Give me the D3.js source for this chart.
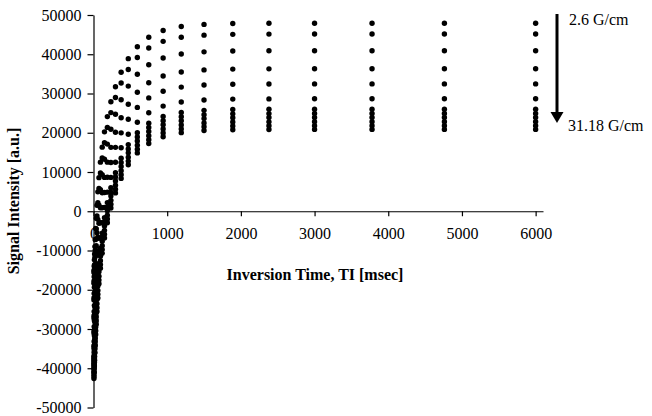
<!DOCTYPE html>
<html>
<head>
<meta charset="utf-8">
<script src="https://cdn.jsdelivr.net/npm/d3@7"></script>
<style>
  body { margin: 0; background: #fff; }
  svg { display: block; }
  text { font-family: "Liberation Serif", "Times New Roman", serif; }
</style>
</head>
<body>
<div id="chart"></div>
<script>
// inversion times [msec]
var tiValues = [6000, 4762, 3780, 3000, 2381, 1890, 1500, 1191, 945, 750, 595, 472, 375, 298, 236,
  188, 149, 118, 94, 74, 59, 47, 37, 30, 23, 19, 15, 12, 9, 7, 6];

// signal intensity [a.u.] per gradient strength
var sig2_6 = [47900, 47900, 47900, 47900, 47880, 47820, 47610, 47080, 46040, 44330, 41910, 38880, 35420, 31730, 27880,
  24110, 20230, 16330, 12510, 8560, 4940, 1530, -1770, -4360, -7230, -9000, -10890, -12380, -13940, -15030, -15580];
var sig5_2 = [45150, 45150, 45150, 45150, 45130, 45070, 44860, 44330, 43290, 41580, 39160, 36130, 32670, 28980, 25130,
  21360, 17480, 13580, 9760, 5810, 2190, -1220, -4520, -7110, -9980, -11750, -13640, -15130, -16690, -17780, -18330];
var sig7_8 = [40900, 40900, 40900, 40900, 40880, 40820, 40610, 40080, 39040, 37330, 34910, 31880, 28420, 24730, 20880,
  17110, 13230, 9330, 5510, 1560, -2060, -5470, -8770, -11360, -14230, -16000, -17890, -19380, -20940, -22030, -22580];
var sig10_4 = [36300, 36300, 36300, 36300, 36280, 36220, 36010, 35480, 34440, 32730, 30310, 27280, 23820, 20130, 16280,
  12510, 8630, 4730, 910, -3040, -6660, -10070, -13370, -15960, -18830, -20600, -22490, -23980, -25540, -26630, -27180];
var sig13_0 = [32450, 32450, 32450, 32450, 32430, 32370, 32160, 31630, 30590, 28880, 26460, 23430, 19970, 16280, 12430,
  8660, 4780, 880, -2940, -6890, -10510, -13920, -17220, -19810, -22680, -24450, -26340, -27830, -29390, -30480, -31030];
var sig15_6 = [28650, 28650, 28650, 28650, 28630, 28570, 28360, 27830, 26790, 25080, 22660, 19630, 16170, 12480, 8630,
  4860, 980, -2920, -6740, -10690, -14310, -17720, -21020, -23610, -26480, -28250, -30140, -31630, -33190, -34280, -34830];
var sig18_2 = [26000, 26000, 26000, 26000, 25980, 25920, 25710, 25180, 24140, 22430, 20010, 16980, 13520, 9830, 5980,
  2210, -1670, -5570, -9390, -13340, -16960, -20370, -23670, -26260, -29130, -30900, -32790, -34280, -35840, -36930, -37480];
var sig20_8 = [24900, 24900, 24900, 24900, 24880, 24820, 24610, 24080, 23040, 21330, 18910, 15880, 12420, 8730, 4880,
  1110, -2770, -6670, -10490, -14440, -18060, -21470, -24770, -27360, -30230, -32000, -33890, -35380, -36940, -38030, -38580];
var sig23_4 = [23900, 23900, 23900, 23900, 23880, 23820, 23610, 23080, 22040, 20330, 17910, 14880, 11420, 7730, 3880,
  110, -3770, -7670, -11490, -15440, -19060, -22470, -25770, -28360, -31230, -33000, -34890, -36380, -37940, -39030, -39580];
var sig26_0 = [22800, 22800, 22800, 22800, 22780, 22720, 22510, 21980, 20940, 19230, 16810, 13780, 10320, 6630, 2780,
  -990, -4870, -8770, -12590, -16540, -20160, -23570, -26870, -29460, -32330, -34100, -35990, -37480, -39040, -40130, -40680];
var sig28_6 = [21800, 21800, 21800, 21800, 21780, 21720, 21510, 20980, 19940, 18230, 15810, 12780, 9320, 5630, 1780,
  -1990, -5870, -9770, -13590, -17540, -21160, -24570, -27870, -30460, -33330, -35100, -36990, -38480, -40040, -41130, -41680];
var sig31_18 = [20850, 20850, 20850, 20850, 20830, 20770, 20560, 20030, 18990, 17280, 14860, 11830, 8370, 4680, 830,
  -2940, -6820, -10720, -14540, -18490, -22110, -25520, -28820, -31410, -34280, -36050, -37940, -39430, -40990, -42080, -42630];

var allSeries = [sig2_6, sig5_2, sig7_8, sig10_4, sig13_0, sig15_6, sig18_2, sig20_8, sig23_4, sig26_0, sig28_6, sig31_18];
var xTicks = [0, 1000, 2000, 3000, 4000, 5000, 6000];
var yTicks = [-50000, -40000, -30000, -20000, -10000, 0, 10000, 20000, 30000, 40000, 50000];
var gradFirst = "2.6 G/cm", gradLast = "31.18 G/cm";

var w = 652, h = 416;

var scaleX = d3.scaleLinear().domain([0, 6100]).range([93.5, 543]);
var scaleY = d3.scaleLinear().domain([-50000, 50000]).range([407.5, 15]);

var svg = d3.select("#chart").append("svg")
  .attr("width", w)
  .attr("height", h);

// y axis
var gy = svg.append("g")
  .attr("transform", "translate(" + scaleX(0) + ",0)")
  .call(d3.axisLeft(scaleY).tickValues(yTicks).tickSize(6).tickSizeOuter(0).tickPadding(6)
    .tickFormat(function (d) { return String(d); }));

// x axis crossing at 0
var gx = svg.append("g")
  .attr("transform", "translate(0," + scaleY(0) + ")")
  .call(d3.axisBottom(scaleX).tickValues(xTicks).tickSize(5).tickSizeOuter(0).tickPadding(11)
    .tickFormat(function (d) { return String(d); }));

svg.selectAll(".tick text")
  .attr("font-family", "'Liberation Serif', 'Times New Roman', serif")
  .attr("font-size", "16px")
  .attr("fill", "#000");
svg.selectAll(".domain, .tick line").attr("stroke", "#000").attr("stroke-width", 1.2);

// points
var pts = [];
allSeries.forEach(function (s) {
  s.forEach(function (v, i) { pts.push({ ti: tiValues[i], s: v }); });
});

svg.append("g")
  .selectAll("circle")
  .data(pts)
  .enter()
  .append("circle")
  .attr("cx", function (d) { return scaleX(d.ti); })
  .attr("cy", function (d) { return scaleY(d.s); })
  .attr("r", 2.7)
  .attr("fill", "#000");

// titles
svg.append("text")
  .attr("x", 315)
  .attr("y", 280)
  .attr("text-anchor", "middle")
  .attr("font-size", "16px")
  .attr("font-weight", "bold")
  .text("Inversion Time, TI [msec]");

svg.append("text")
  .attr("transform", "translate(19,201) rotate(-90)")
  .attr("text-anchor", "middle")
  .attr("font-size", "16px")
  .attr("font-weight", "bold")
  .text("Signal Intensity [a.u.]");

// gradient arrow
svg.append("line")
  .attr("x1", 557).attr("y1", 14)
  .attr("x2", 557).attr("y2", 114)
  .attr("stroke", "#000")
  .attr("stroke-width", 3);
svg.append("path")
  .attr("d", "M550.5,112 L563.5,112 L557,123 Z")
  .attr("fill", "#000");

svg.append("text")
  .attr("x", 569).attr("y", 25)
  .attr("font-size", "16px")
  .text(gradFirst);
svg.append("text")
  .attr("x", 568).attr("y", 131)
  .attr("font-size", "16px")
  .text(gradLast);
</script>
</body>
</html>
